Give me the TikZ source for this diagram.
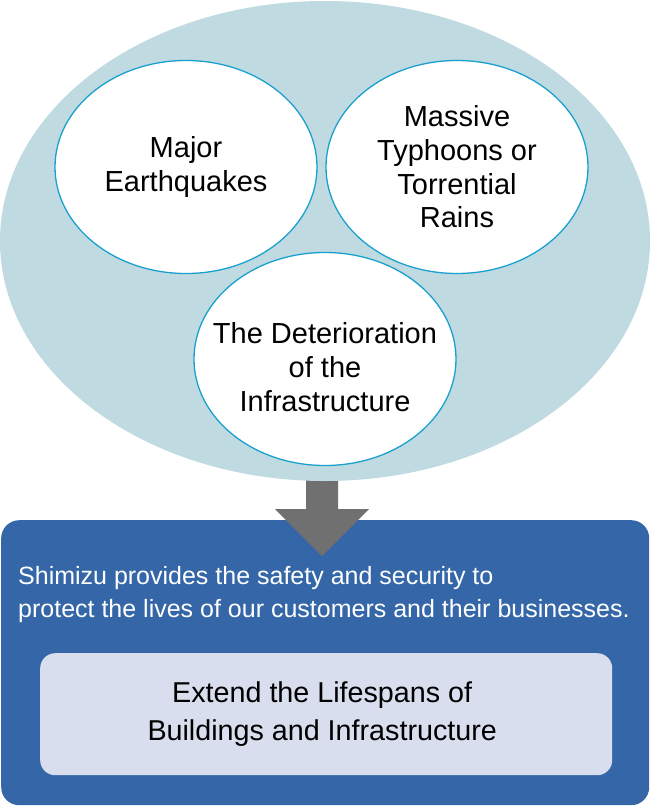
\documentclass[tikz,border=0pt]{standalone}
\usepackage{fontspec}
\setmainfont{Liberation Sans}
\usetikzlibrary{shapes.geometric}
\definecolor{ellfill}{HTML}{C0DAE1}
\definecolor{ringline}{HTML}{1AA0CF}
\definecolor{arrowgray}{HTML}{707070}
\definecolor{boxblue}{HTML}{3466A8}
\definecolor{innerfill}{HTML}{D9DEEE}
\tikzset{
  risk/.style={ellipse, draw=ringline, line width=1.3pt, fill=white, inner sep=0pt,
    minimum width=262pt, minimum height=213pt, align=center,
    font=\fontsize{29}{33.7}\selectfont},
  risktext/.style={align=center, inner sep=0pt, font=\fontsize{29}{33.7}\selectfont},
}
\begin{document}
\begin{tikzpicture}[x=1pt,y=-1pt]
\useasboundingbox (0,0) rectangle (650,806);
% bottom box
\node[fill=boxblue, rounded corners=18pt, inner sep=0pt, minimum width=648pt,
  minimum height=285pt, anchor=north west] (outer) at (1,520) {};
\node[fill=innerfill, rounded corners=15pt, inner sep=0pt, minimum width=572pt,
  minimum height=122pt, anchor=north west, align=center,
  font=\fontsize{28.7}{38.5}\selectfont] (inner) at (40,653)
  {Extend the Lifespans of\hspace*{8pt}\\Buildings and Infrastructure\hspace*{8pt}};
\node[anchor=west, align=left, text=white, inner sep=0pt,
  font=\fontsize{25}{33}\selectfont] (msg) at (18,595)
  {Shimizu provides the safety and security to\\protect the lives of our customers and their businesses.};
% arrow
\coordinate (atop) at (322,470);
\coordinate (atip) at (322,556);
\fill[arrowgray] ([xshift=-16pt]atop) -- ([xshift=16pt]atop) -- (338,509) -- (369,509)
  -- (atip) -- (275,509) -- (306,509) -- cycle;
% big ellipse
\node[ellipse, fill=ellfill, inner sep=0pt, minimum width=650pt, minimum height=480pt] (big) at (325,241) {};
% risk circles
\node[risk] (quake) at (186,167) {Major\\Earthquakes};
\node[risk] (typhoon) at (457,167) {Massive\\Typhoons or\\Torrential\\Rains};
\node[risk] (infra) at (325,359) {};
\node[risktext] (infratext) at ([yshift=-8pt]infra.center) {The Deterioration\\of the\\Infrastructure};
\end{tikzpicture}
\end{document}
